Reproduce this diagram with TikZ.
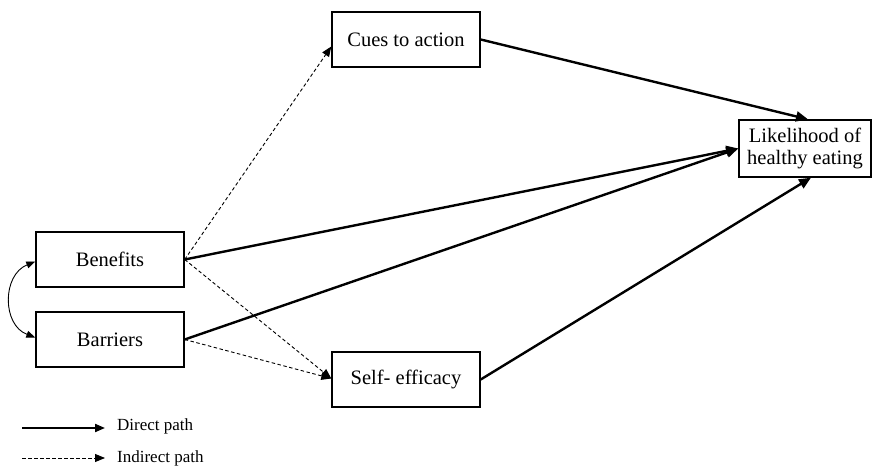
\documentclass[tikz,border=0pt]{standalone}
\usepackage{fontspec}
\setmainfont{Liberation Serif}
\usetikzlibrary{arrows.meta,calc}
\begin{document}
\begin{tikzpicture}[x=1pt,y=1pt,
  box/.style={draw=black, line width=1.4pt, fill=white, minimum width=148pt, minimum height=55pt, inner sep=0pt, font=\fontsize{20.5}{22.5}\selectfont, align=center},
  direct/.style={line width=2.4pt, -{Triangle[length=12pt,width=10pt]}},
  indirect/.style={line width=0.9pt, dash pattern=on 3.5pt off 2.5pt, -{Triangle[length=10pt,width=8pt]}},
  legtext/.style={font=\fontsize{17}{19}\selectfont, anchor=west, inner sep=0pt}]
\useasboundingbox (0,0) rectangle (876,466);
\node[box] (cues) at (406,426.5) {Cues to action};
\node[box] (ben) at (110,206.5) {Benefits};
\node[box] (bar) at (110,126.5) {Barriers};
\node[box] (self) at (406,86.5) {Self- efficacy};
\node[box, minimum width=132pt, minimum height=57pt] (like) at (805,317.5) {Likelihood of\\healthy eating};
\draw[direct] (cues.east) -- ([xshift=3pt]like.north);
\draw[direct] (ben.east) -- (like.west);
\draw[direct] (bar.east) -- (like.west);
\draw[direct] (self.east) -- ([xshift=6pt]like.south);
\draw[indirect] (ben.east) -- ([yshift=-7pt]cues.west);
\draw[indirect] (ben.east) -- ([yshift=1pt]self.west);
\draw[indirect] (bar.east) -- ([yshift=1pt]self.west);
\coordinate (c1) at ([yshift=-2pt]ben.west);
\coordinate (c2) at ([yshift=2pt]bar.west);
\draw[line width=0.9pt, {Triangle[length=9pt,width=7pt]}-{Triangle[length=9pt,width=7pt]}] (c1) .. controls (2,191) and (2,141) .. (c2);
\coordinate (l1a) at (22,38);
\coordinate (l1b) at (105,38);
\coordinate (l2a) at (22,8);
\coordinate (l2b) at (105,8);
\draw[line width=2pt, -{Triangle[length=10pt,width=8pt]}] (l1a) -- (l1b);
\draw[line width=0.9pt, dash pattern=on 3.5pt off 2.5pt, -{Triangle[length=10pt,width=8pt]}] (l2a) -- (l2b);
\node[legtext] (t1) at (117,40) {Direct path};
\node[legtext] (t2) at (117,8) {Indirect path};
\end{tikzpicture}
\end{document}
